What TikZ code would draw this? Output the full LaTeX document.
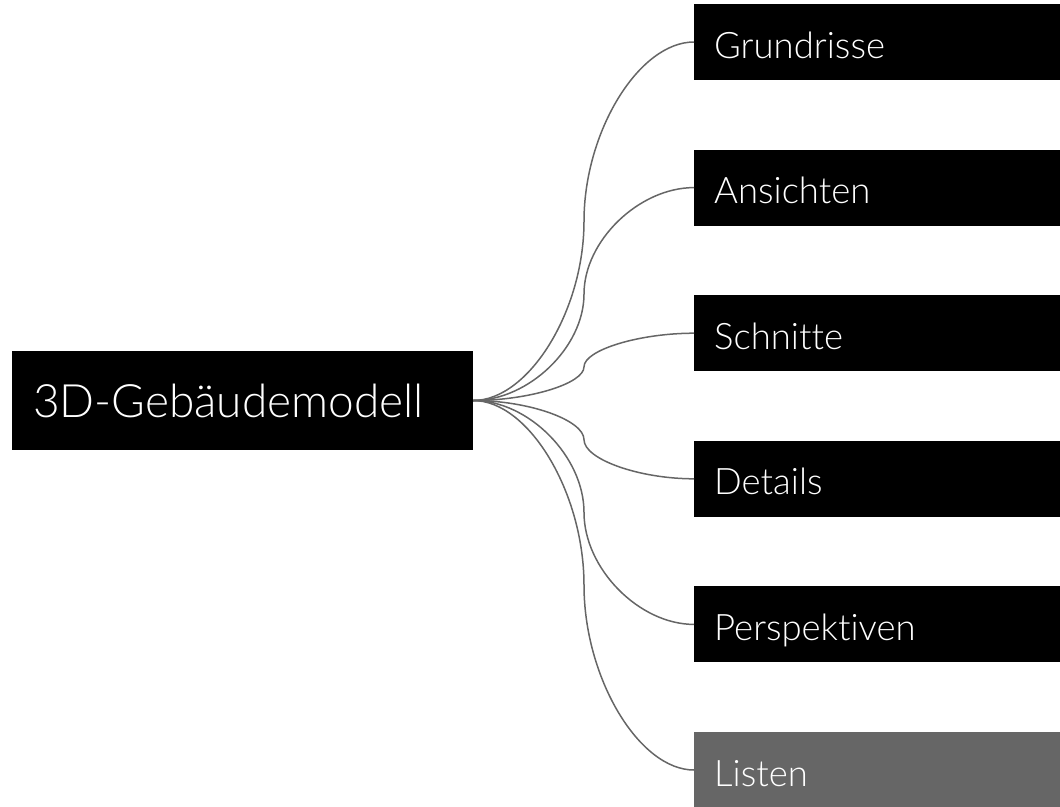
\documentclass[tikz,border=0pt]{standalone}
\usepackage{fontspec}
\IfFontExistsTF{Lato Light}{\setmainfont{Lato Light}[Ligatures=NoCommon]}{\setmainfont{Lato}[Ligatures=NoCommon]}
\definecolor{linegray}{HTML}{666666}
\definecolor{listgray}{HTML}{666666}
\tikzset{
  rootbox/.style={rectangle, fill=black, text=white, inner xsep=21pt, inner ysep=0pt,
    minimum width=461pt, minimum height=99pt, text width=419pt, align=left,
    text height=34pt, text depth=0pt, font=\fontsize{46}{50}\selectfont},
  childbox/.style={rectangle, fill=black, text=white, inner xsep=20pt, inner ysep=0pt,
    minimum width=366pt, minimum height=76pt, text width=326pt, align=left,
    text height=32pt, text depth=0pt, anchor=west, font=\fontsize{36.5}{40}\selectfont},
  lastbox/.style={childbox, fill=listgray},
  link/.style={draw=linegray, line width=1.5pt}
}
\begin{document}
\begin{tikzpicture}[x=1pt,y=-1pt]
\useasboundingbox (0,0) rectangle (1060,806);
\clip (0,0) rectangle (1060,806);
\node[rootbox] (root) at (242.5,400.5) {3D-Gebäudemodell};
\node[childbox] (c1) at (694,42) {Grundrisse};
\node[childbox] (c2) at (694,187.6) {Ansichten};
\node[childbox] (c3) at (694,333.2) {Schnitte};
\node[childbox] (c4) at (694,478.8) {Details};
\node[childbox] (c5) at (694,624.4) {Perspektiven};
\node[lastbox] (c6) at (694,770) {Listen};
\coordinate (m1) at (584,221.25);
\coordinate (m2) at (584,294.05);
\coordinate (m3) at (584,366.85);
\coordinate (m4) at (584,439.65);
\coordinate (m5) at (584,512.45);
\coordinate (m6) at (584,585.25);
\path[link] (root.east) .. controls +(55.5,0) and +(0,89.6) .. (m1) .. controls +(0,-89.6) and +(-55,0) .. (c1.west);
\path[link] (root.east) .. controls +(55.5,0) and +(0,53.2) .. (m2) .. controls +(0,-53.2) and +(-55,0) .. (c2.west);
\path[link] (root.east) .. controls +(55.5,0) and +(0,16.8) .. (m3) .. controls +(0,-16.8) and +(-55,0) .. (c3.west);
\path[link] (root.east) .. controls +(55.5,0) and +(0,-19.6) .. (m4) .. controls +(0,19.6) and +(-55,0) .. (c4.west);
\path[link] (root.east) .. controls +(55.5,0) and +(0,-56.0) .. (m5) .. controls +(0,56.0) and +(-55,0) .. (c5.west);
\path[link] (root.east) .. controls +(55.5,0) and +(0,-92.6) .. (m6) .. controls +(0,92.6) and +(-55,0) .. (c6.west);
\end{tikzpicture}
\end{document}
